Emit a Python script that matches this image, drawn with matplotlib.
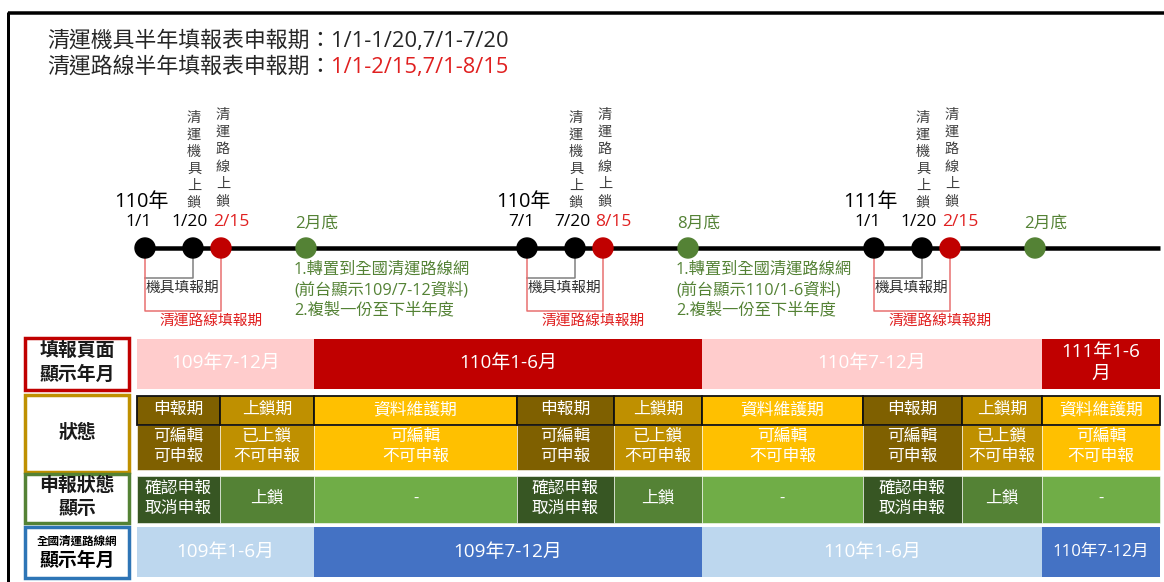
import matplotlib
matplotlib.use("Agg")
import matplotlib.pyplot as plt
from matplotlib.patches import Rectangle, Circle

plt.rcParams['font.family'] = ['Open Sans', 'Noto Sans CJK TC', 'DejaVu Sans']

# ---------------- data ----------------
title_prefix = ["清運機具半年填報表申報期：", "清運路線半年填報表申報期："]
title_periods = ["1/1-1/20,7/1-7/20", "1/1-2/15,7/1-8/15"]

years = ["110年", "110年", "111年"]
open_dates = ["1/1", "7/1", "1/1"]
equip_lock = ["1/20", "7/20", "1/20"]
route_lock = ["2/15", "8/15", "2/15"]
transfer = ["2月底", "8月底", "2月底"]
transfer_notes = [["1.轉置到全國清運路線網", "(前台顯示109/7-12資料)", "2.複製一份至下半年度"],
                  ["1.轉置到全國清運路線網", "(前台顯示110/1-6資料)", "2.複製一份至下半年度"],
                  []]
equip_lock_v = "清運機具上鎖"
route_lock_v = "清運路線上鎖"
equip_period = "機具填報期"
route_period = "清運路線填報期"

row_titles = ["填報頁面\n顯示年月", "狀態", "申報狀態\n顯示", "全國清運路線網\n顯示年月"]
page_months = ["109年7-12月", "110年1-6月", "110年7-12月", "111年1-6\n月"]
net_months = ["109年1-6月", "109年7-12月", "110年1-6月", "110年7-12月"]
phases = ["申報期", "上鎖期", "資料維護期"] * 3
phase_rights = ["可編輯\n可申報", "已上鎖\n不可申報", "可編輯\n不可申報"] * 3
phase_status = ["確認申報\n取消申報", "上鎖", "-"] * 3

# ---------------- layout / style ----------------
W, H = 1164, 582
group_x = [145, 527, 874]          # first dot of each half year
dot_dx = [0, 48, 76, 161]
line_y = 248
col_edges = [137, 220, 314, 517, 614, 702, 863, 962, 1042, 1160]
half_edges = [137, 314, 702, 1042, 1160]

RED, DRED, GREEN = '#E02020', '#C00000', '#548235'
page_cols = ['#FFCCCC', '#C00000'] * 2
net_cols = ['#BDD7EE', '#4472C4'] * 2
phase_cols = ['#7F6000', '#BF9000', '#FFC000'] * 3
status_cols = ['#375623', '#548235', '#70AD47'] * 3
box_cols = ['#C00000', '#BF9000', '#548235', '#2E75B6']


def pt(px):
    return px * 0.72 * 1.05


def lines(ax, x, yc, text, step, **kw):
    parts = text.split("\n")
    y0 = yc - step * (len(parts) - 1) / 2
    for i, s in enumerate(parts):
        ax.text(x, y0 + i * step, s, ha='center', va='center', **kw)


fig = plt.figure(figsize=(W / 100, H / 100), dpi=100)
ax = fig.add_axes([0, 0, 1, 1])
ax.set_xlim(0, W)
ax.set_ylim(H, 0)
ax.axis('off')

# frame
ax.plot([8, W], [13, 13], color='black', lw=3.5 * 0.72, solid_capstyle='butt')
ax.plot([8, 8], [12, H], color='black', lw=3 * 0.72, solid_capstyle='butt')

# title
renderer = fig.canvas.get_renderer()
for i, (a, b) in enumerate(zip(title_prefix, title_periods)):
    y = 41 + i * 26
    t = ax.text(47, y, a, fontsize=pt(20.8), color='#262626', va='center')
    bb = t.get_window_extent(renderer)
    ax.text(bb.x1, y, b, fontsize=pt(20.8), color='#262626' if i == 0 else RED, va='center')

# timeline
ax.plot([group_x[0], 1160], [line_y, line_y], color='black', lw=4.5 * 0.72, zorder=2,
        solid_capstyle='butt')
for g, x0 in enumerate(group_x):
    xs = [x0 + d for d in dot_dx]
    for x, c in zip(xs, ['black', 'black', DRED, GREEN]):
        ax.add_patch(Circle((x, line_y), 10, color=c, zorder=3))
    ax.text(x0 - 4, 202, years[g], fontsize=pt(19), ha='center', va='center', color='black')
    ax.text(xs[0] - 6, 222, open_dates[g], fontsize=pt(16.5), ha='center', va='center')
    ax.text(xs[1] - 3, 222, equip_lock[g], fontsize=pt(16.5), ha='center', va='center')
    ax.text(xs[2] + 10, 222, route_lock[g], fontsize=pt(16.5), ha='center', va='center', color=RED)
    ax.text(xs[3] + 11, 225, transfer[g], fontsize=pt(16), ha='center', va='center', color=GREEN)
    for k, ch in enumerate(equip_lock_v):
        ax.text(xs[1] + 1, 118 + 17 * k, ch, fontsize=pt(13.5), ha='center', va='center',
                color='#404040')
    for k, ch in enumerate(route_lock_v):
        ax.text(xs[2] + 2, 115 + 17.4 * k, ch, fontsize=pt(13.5), ha='center', va='center',
                color='#404040')
    # brackets
    ax.plot([xs[1], xs[1], xs[0]], [line_y + 10, 278, 278], color='#808080', lw=1.1, zorder=1)
    ax.plot([xs[0], xs[0], xs[2], xs[2]], [line_y + 10, 311, 311, line_y + 10],
            color='#E87070', lw=1.1, zorder=1)
    ax.text(x0 + 37, 288, equip_period, fontsize=pt(14), ha='center', va='center', color='#333333')
    ax.text(x0 + 66, 321, route_period, fontsize=pt(14), ha='center', va='center', color=RED)
    for k, s in enumerate(transfer_notes[g]):
        ax.text(xs[3] - 12, 270 + 20 * k, s, fontsize=pt(15.5), va='center', color=GREEN)

# row title boxes
box_y = [(338, 390), (395, 472), (474, 523), (527, 578)]
for (y0, y1), c, name in zip(box_y, box_cols, row_titles):
    ax.add_patch(Rectangle((25, y0), 104, y1 - y0, facecolor='white', edgecolor=c, lw=2.5))
    yc = (y0 + y1) / 2
    if name.startswith("全國"):
        ax.text(77, 541, name.split("\n")[0], fontsize=pt(11), ha='center', va='center',
                weight='bold')
        ax.text(77, 561, name.split("\n")[1], fontsize=pt(18), ha='center', va='center',
                weight='bold')
    else:
        lines(ax, 77, yc - 1, name, 24, fontsize=pt(18), weight='bold', color='#1a1a1a')

# row 1 / row 4: half-year bands
for i in range(len(page_months)):
    x0, x1 = half_edges[i], half_edges[i + 1]
    ax.add_patch(Rectangle((x0, 339), x1 - x0, 50, facecolor=page_cols[i], edgecolor='none'))
    lines(ax, (x0 + x1) / 2, 363, page_months[i], 22, fontsize=pt(18), color='white')
    ax.add_patch(Rectangle((x0, 527), x1 - x0, 50, facecolor=net_cols[i], edgecolor='none'))
    lines(ax, (x0 + x1) / 2, 552, net_months[i], 22,
          fontsize=pt(18) if i < 3 else pt(16), color='white')

# row 2 / row 3: phases
for i in range(len(phases)):
    x0, x1 = col_edges[i], col_edges[i + 1]
    xc = (x0 + x1) / 2
    ax.add_patch(Rectangle((x0, 425), x1 - x0, 45, facecolor=phase_cols[i],
                           edgecolor='#ffffff', lw=0.4))
    ax.add_patch(Rectangle((x0, 396), x1 - x0, 29, facecolor=phase_cols[i],
                           edgecolor='#111111', lw=1.3, zorder=3))
    ax.text(xc, 410, phases[i], fontsize=pt(16), ha='center', va='center', color='white', zorder=4)
    lines(ax, xc, 447, phase_rights[i], 20, fontsize=pt(16), color='white')
    ax.add_patch(Rectangle((x0, 476), x1 - x0, 47, facecolor=status_cols[i],
                           edgecolor='#ffffff', lw=0.4))
    lines(ax, xc, 499, phase_status[i], 20, fontsize=pt(16), color='white')

fig.savefig("out.png", dpi=100)
